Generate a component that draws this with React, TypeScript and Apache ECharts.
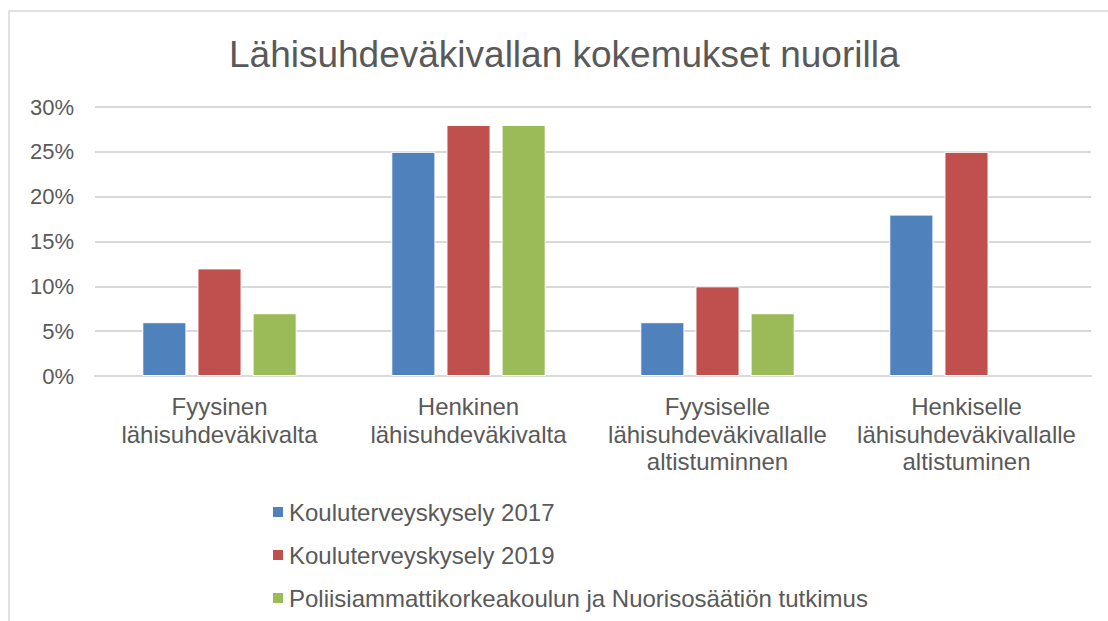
import React, { useEffect, useRef } from "react";
import * as echarts from "echarts";

const categories = [
  "Fyysinen\nlähisuhdeväkivalta",
  "Henkinen\nlähisuhdeväkivalta",
  "Fyysiselle\nlähisuhdeväkivallalle\naltistuminnen",
  "Henkiselle\nlähisuhdeväkivallalle\naltistuminen",
];
const seriesNames = [
  "Kouluterveyskysely 2017",
  "Kouluterveyskysely 2019",
  "Poliisiammattikorkeakoulun ja Nuorisosäätiön tutkimus",
];
const values2017 = [6, 25, 6, 18];
const values2019 = [12, 28, 10, 25];
const valuesPoliisi = [7, 28, 7, null];
const colors = ["#4F81BD", "#C0504D", "#9BBB59"];
const title = "Lähisuhdeväkivallan kokemukset nuorilla";

export default function App() {
  const ref = useRef<HTMLDivElement>(null);
  useEffect(() => {
    document.body.style.margin = "0";
    const chart = echarts.init(ref.current!, null, { renderer: "svg" });
    const font = "'Liberation Sans', Arial, sans-serif";
    const data = [values2017, values2019, valuesPoliisi];
    chart.setOption({
      animation: false,
      textStyle: { fontFamily: font },
      title: {
        text: title,
        left: 224,
        top: 31,
        textStyle: { fontSize: 37, fontWeight: "normal", color: "#595959", fontFamily: font },
      },
      graphic: [
        {
          type: "rect",
          shape: { x: 9, y: 11, width: 1120, height: 640 },
          style: { fill: "none", stroke: "#D9D9D9", lineWidth: 1.5 },
          silent: true,
        },
      ],
      legend: {
        orient: "vertical",
        left: 266,
        top: 495,
        itemWidth: 12,
        itemHeight: 12,
        itemGap: 19,
        icon: "rect",
        textStyle: { fontSize: 24, color: "#595959", fontFamily: font, lineHeight: 24 },
        data: seriesNames,
      },
      grid: { left: 95, right: 17, top: 107, bottom: 245, containLabel: false },
      xAxis: {
        type: "category",
        data: categories,
        axisLine: { lineStyle: { color: "#D9D9D9", width: 2 } },
        axisTick: { show: false },
        axisLabel: {
          fontSize: 24,
          color: "#595959",
          lineHeight: 27.5,
          margin: 17,
          interval: 0,
          fontFamily: font,
        },
      },
      yAxis: {
        type: "value",
        min: 0,
        max: 30,
        interval: 5,
        axisLine: { show: false },
        axisTick: { show: false },
        splitLine: { lineStyle: { color: "#D9D9D9", width: 2 } },
        axisLabel: {
          fontSize: 22,
          color: "#595959",
          margin: 21,
          formatter: (v: number) => v + "%",
          fontFamily: font,
        },
      },
      series: seriesNames.map((name, i) => ({
        name,
        type: "bar",
        data: data[i],
        barGap: "25%",
        barCategoryGap: "38%",
        itemStyle: { color: colors[i], borderColor: "#ffffff", borderWidth: 1 },
      })),
    });
    return () => chart.dispose();
  }, []);
  return <div ref={ref} style={{ width: 1108, height: 621 }} />;
}
